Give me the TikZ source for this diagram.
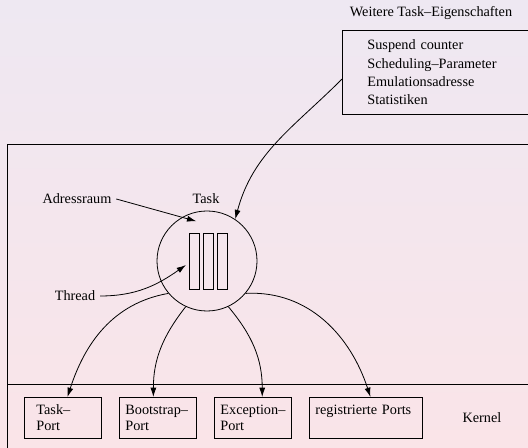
\documentclass[tikz,border=0pt]{standalone}
\usepackage{fontspec}
\setmainfont{Liberation Serif}
\usetikzlibrary{arrows.meta}

\begin{document}
\begin{tikzpicture}[x=0.75pt,y=0.75pt,>={Latex[length=7pt,width=4.5pt]},line width=0.6pt,
    every node/.style={font=\fontsize{10.7}{12}\selectfont},
    port/.style={draw,anchor=north west,align=left,minimum height=30.75pt,inner xsep=4.5pt,text width=48.75pt},
    bar/.style={draw,minimum width=7.5pt,minimum height=42pt,inner sep=0pt}]
  \useasboundingbox (0,0) rectangle (528,448);
  \shade[top color={rgb,255:red,238;green,232;blue,242},bottom color={rgb,255:red,250;green,228;blue,232}] (0,0) rectangle (528,448);
  \draw (7,-10) rectangle (540,304);
  \draw (7,64) -- (540,64);

  \node (title) at (431,435) {Weitere Task–Eigenschaften};
  \node[draw,anchor=north west,align=left,minimum width=150pt,minimum height=63pt,inner xsep=18.75pt,text width=112.5pt,
        font=\fontsize{10.7}{13.7}\selectfont] (props) at (342,418)
       {Suspend counter\\Scheduling–Parameter\\Emulationsadresse\\Statistiken};

  \node[draw,circle,minimum size=75pt,inner sep=0pt] (task) at (207,187) {};
  \node[bar] (b1) at (194,187) {};
  \node[bar] (b2) at (208,187) {};
  \node[bar] (b3) at (222,187) {};
  \node (tl) at (206,249) {Task};
  \node (adr) at (77,249) {Adressraum};
  \node (thr) at (75,152) {Thread};

  \node[port,inner xsep=9pt,text width=39.75pt] (tp) at (24,51) {Task–\\Port};
  \node[port] (bp) at (119,51) {Bootstrap–\\Port};
  \node[port] (ep) at (214,51) {Exception–\\Port};
  \node[port,text width=75.75pt] (rp) at (309,51) {registrierte Ports\\\mbox{}};
  \node (kern) at (482,30) {Kernel};

  \draw[->] (adr.east) -- ([shift={(-8pt,-8pt)}]task.north);
  \draw[->] (thr.east) to[out=0,in=215] ([shift={(-2pt,-3pt)}]b1.west);
  \draw[->] ([yshift=-5pt]props.west) to[out=225,in=75] (task.56);
  \draw[->] (task.220) to[out=190,in=72] ([xshift=3.4pt]tp.north);
  \draw[->] (task.245) to[out=232,in=90] ([xshift=-3.4pt]bp.north);
  \draw[->] (task.295) to[out=-50,in=90] ([xshift=7pt]ep.north);
  \draw[->] (task.320) to[out=3,in=108] ([xshift=3.4pt]rp.north);
\end{tikzpicture}
\end{document}
